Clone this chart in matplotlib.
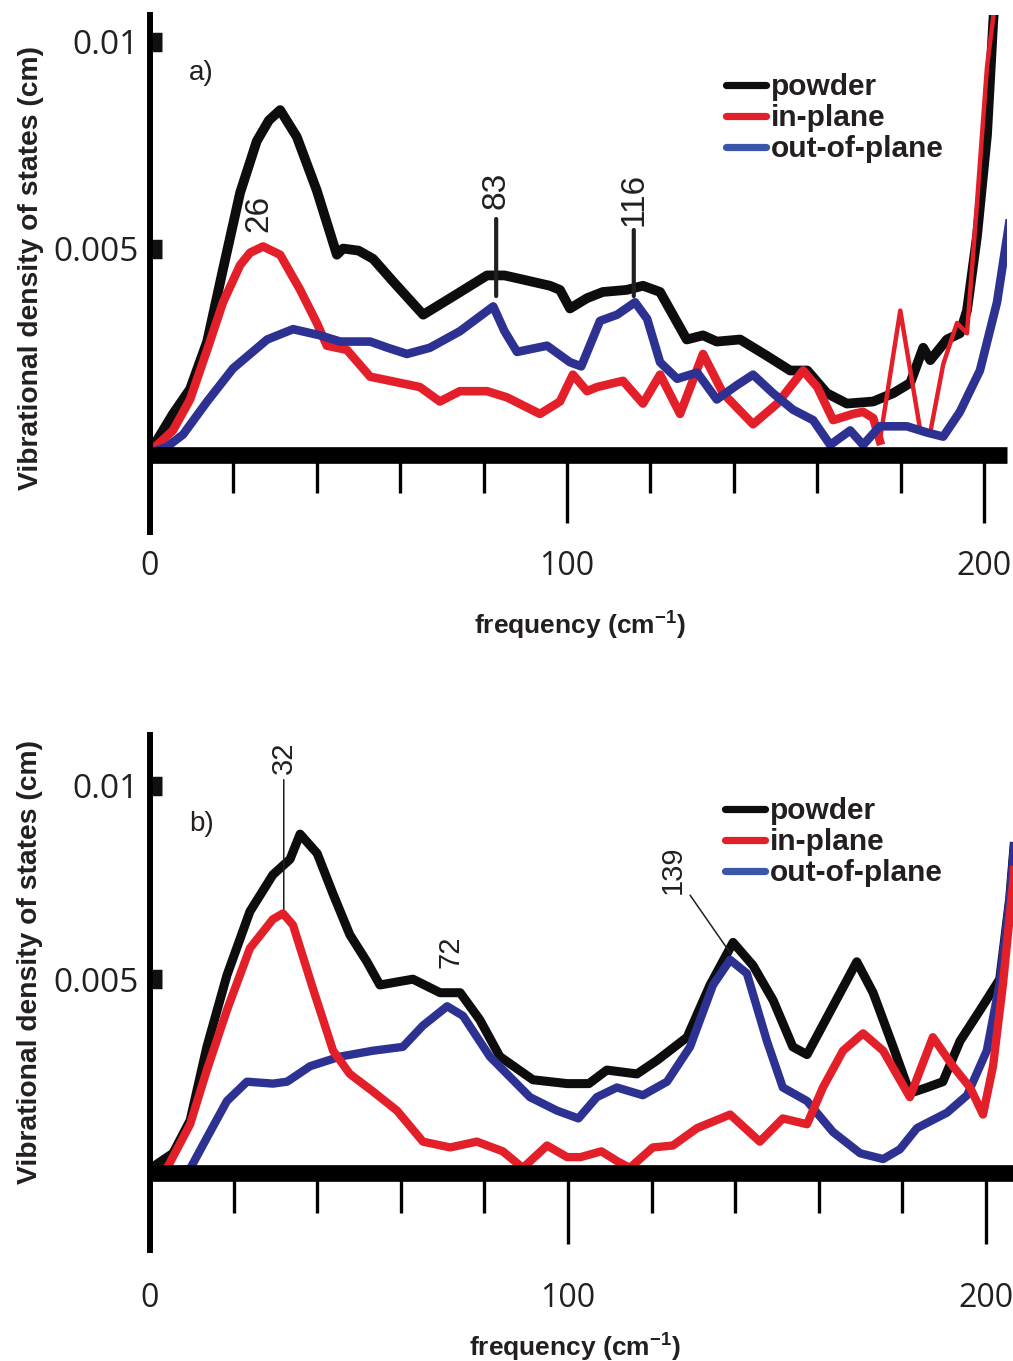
import matplotlib
matplotlib.use("Agg")
import matplotlib.pyplot as plt
from matplotlib.lines import Line2D
from matplotlib.ticker import FixedLocator, MultipleLocator, NullFormatter
import numpy as np

plt.rcParams["mathtext.fontset"] = "custom"
plt.rcParams["mathtext.rm"] = "Liberation Sans"
plt.rcParams["mathtext.bf"] = "Liberation Sans:bold"

# ---------------- data (density of states in units of 1e-3 cm) ----------------
# panel a
freq_a_powder = [0, 0.7, 5.5, 9.6, 13.7, 17.5, 21.6, 25.6, 28.5, 31.2, 35.2, 40, 44.8, 46.3, 50,
                 53.5, 58.3, 65.5, 73.6, 80.8, 85, 89.4, 95.9, 98.3, 100.7, 104.8, 108.6, 114.3,
                 118.2, 122.3, 128.7, 132.6, 135.9, 141.5, 148, 153.5, 157.6, 162.3, 167.1, 173.4,
                 178.2, 182.3, 185.4, 187.1, 191.1, 194.2, 195.9, 198.3, 200.7, 202.2, 204]
dos_a_powder = [0.15, 0.2, 1.0, 1.6, 2.75, 4.5, 6.35, 7.6, 8.1, 8.35, 7.7, 6.4, 4.85, 5.0, 4.95,
                4.75, 4.2, 3.4, 3.9, 4.35, 4.35, 4.25, 4.1, 4.0, 3.55, 3.8, 3.95, 4.0,
                4.1, 3.95, 2.8, 2.9, 2.75, 2.8, 2.4, 2.05, 2.05, 1.5, 1.25, 1.3,
                1.5, 1.75, 2.6, 2.3, 2.8, 2.95, 3.5, 5.3, 7.75, 10.5, 13]

freq_a_inplane = [0, 0.7, 5.5, 9.6, 13.7, 17.5, 21.6, 24, 27.1, 31.2, 36, 40, 42.4, 47.2, 52.8,
                  57.6, 64.7, 69.5, 74.3, 80.8, 85.6, 93.5, 98.3, 101.4, 104.8, 107.2, 113.4,
                  118.2, 122.3, 127.1, 132.6, 137.4, 144.6, 150.4, 156.6, 160, 163.8, 168.6, 171,
                  173.4, 175, 179.9, 184.7, 187, 190.2, 193.5, 195.9, 198.3, 200.7, 202.2, 203.5]
dos_a_inplane = [0.1, 0.15, 0.6, 1.35, 2.55, 3.7, 4.6, 4.9, 5.05, 4.85, 4.0, 3.2, 2.65, 2.55, 1.9,
                 1.8, 1.65, 1.3, 1.55, 1.55, 1.4, 1.0, 1.3, 1.95, 1.55, 1.65, 1.8,
                 1.25, 1.95, 1.0, 2.45, 1.5, 0.75, 1.25, 2.05, 1.65, 0.85, 1.0, 1.05,
                 0.9, 0.35, 3.5, 0.6, 0.5, 2.2, 3.2, 2.95, 6.1, 9.4, 10.6, 13]

freq_a_outplane = [0, 4, 7.9, 13.7, 19.9, 28.1, 34.3, 40.8, 45.6, 52.8, 57, 61.6, 67.1, 74.3, 82.3,
                   85, 88, 92.8, 95.2, 100.7, 103.4, 107.9, 112, 116.3, 119.2, 122.3, 126.4,
                   131.2, 135.9, 140.8, 144.6, 149.4, 154.2, 159, 163.1, 167.9, 171, 175, 181.5,
                   186.3, 190.2, 194.2, 199, 203.1, 206]
dos_a_outplane = [0.05, 0.2, 0.5, 1.3, 2.1, 2.8, 3.05, 2.9, 2.75, 2.75, 2.6, 2.45, 2.6, 3.0, 3.6,
                  3.0, 2.5, 2.6, 2.65, 2.25, 2.15, 3.25, 3.4, 3.7, 3.3, 2.25, 1.85,
                  2.0, 1.35, 1.7, 1.95, 1.5, 1.1, 0.85, 0.25, 0.6, 0.25, 0.7, 0.7,
                  0.55, 0.45, 1.05, 2.05, 3.7, 5.6]

# panel b
freq_b_powder = [0, 0.7, 5.5, 9.6, 13.6, 18.4, 23.9, 29.4, 33.5, 35.9, 40, 43.8, 47.8, 51.9, 55,
                 62.9, 69.4, 74.2, 78.9, 83.7, 91.6, 99.8, 105, 109.3, 116.5, 121.3, 128.5, 134,
                 139.5, 144.3, 149.1, 153.8, 157.2, 163.4, 169.1, 173, 177.8, 181.8, 185.9, 189.7,
                 193.8, 198.6, 203.3, 205.7, 207]
dos_b_powder = [0.1, 0.15, 0.5, 1.35, 3.25, 5.1, 6.75, 7.7, 8.1, 8.75, 8.25, 7.2, 6.15, 5.45, 4.85,
                5.0, 4.65, 4.65, 3.95, 3.0, 2.4, 2.3, 2.3, 2.65, 2.55, 2.9, 3.5, 4.85,
                5.95, 5.35, 4.45, 3.25, 3.05, 4.3, 5.45, 4.65, 3.25, 2.05, 2.2, 2.35,
                3.4, 4.2, 5.0, 7.1, 8.8]

freq_b_inplane = [0, 4, 9.6, 13.6, 18.4, 23.9, 29.4, 31.8, 34.2, 39, 43.8, 47.8, 53.3, 59.1, 65.3,
                  71.8, 78.2, 84.4, 89.2, 95, 99.8, 103, 108, 111.7, 114.8, 120.3, 125.1, 130.9,
                  138.8, 145.9, 151.4, 157.2, 161, 165.8, 170.6, 175.4, 181.8, 187.3, 192.1, 196.2,
                  199.3, 201.7, 204.1, 206.5, 207.5]
dos_b_inplane = [0.05, 0.1, 1.25, 2.65, 4.2, 5.8, 6.55, 6.7, 6.4, 4.75, 3.15, 2.55, 2.1, 1.6, 0.8,
                 0.65, 0.8, 0.55, 0.12, 0.7, 0.4, 0.4, 0.55, 0.3, 0.12, 0.65, 0.7, 1.15,
                 1.5, 0.8, 1.4, 1.25, 2.2, 3.15, 3.6, 3.15, 1.95, 3.5, 2.75, 2.2,
                 1.5, 2.75, 4.9, 7.5, 9.0]

freq_b_outplane = [0, 5, 9.6, 13.6, 18.4, 23.2, 29.4, 32.8, 38.3, 45.5, 53.3, 60.5, 65.3, 71.1,
                   74.9, 81.3, 90.9, 97.4, 102.5, 106.9, 111.7, 117.9, 123.7, 129.2, 134.7, 138.8,
                   142.8, 147.6, 151.4, 157.2, 163.4, 169.9, 175.4, 179.4, 183.5, 190.7, 195.5,
                   200.2, 203.3, 205.7, 207]
dos_b_outplane = [0.02, 0.05, 0.1, 0.9, 1.85, 2.35, 2.3, 2.35, 2.75, 3.0, 3.15, 3.25, 3.8, 4.3,
                  4.05, 3.0, 1.95, 1.6, 1.4, 1.95, 2.2, 2.0, 2.35, 3.25, 4.85, 5.5,
                  5.15, 3.4, 2.2, 1.85, 1.05, 0.5, 0.35, 0.6, 1.15, 1.55, 2.0,
                  3.15, 4.9, 7.1, 8.8]

series_labels = ["powder", "in-plane", "out-of-plane"]
x_tick_labels = ["0", "100", "200"]
y_tick_values = [0.005, 0.01]
y_tick_labels = ["0.005", "0.01"]

# labelled peak frequencies
peaks_a = [26, 83, 116]
peaks_b = [32, 72, 139]

SCALE = 1e-3
C_POWDER = "#0d0d0d"
C_IN = "#e3202a"
C_OUT = "#2d3192"
C_LEG_OUT = "#3a56a8"
LEAD = "#231f20"
TXT = "#231f20"

BOLD = dict(family="Liberation Sans", weight="bold")
NUM_FONT = "Liberation Sans"
TICK_FONT = "Open Sans"

fig = plt.figure(figsize=(10.13, 13.61), dpi=100)
ax_a = fig.add_axes([0.1481, 0.609, 0.846, 0.380])
ax_b = fig.add_axes([0.1481, 0.0816, 0.852, 0.378])


def style_axes(ax, xmax, ylo, yhi, major_len, minor_len, lab_pad):
    ax.set_xlim(0, xmax)
    ax.set_ylim(ylo * SCALE, yhi * SCALE)
    for side in ("top", "right"):
        ax.spines[side].set_visible(False)
    ax.spines["bottom"].set_position(("data", 0))
    ax.spines["bottom"].set_linewidth(12)
    ax.spines["bottom"].set_capstyle("butt")
    ax.spines["left"].set_linewidth(4.3)
    ax.spines["left"].set_position(("data", 0))
    ax.spines["bottom"].set_zorder(5)
    ax.spines["left"].set_zorder(5)

    ax.xaxis.set_major_locator(FixedLocator([0, 100, 200]))
    ax.set_xticklabels(x_tick_labels, fontsize=23, family=TICK_FONT, color=TXT)
    ax.xaxis.set_minor_locator(MultipleLocator(20))
    ax.xaxis.set_minor_formatter(NullFormatter())
    ax.tick_params(axis="x", which="major", direction="out", length=major_len, width=2.4,
                   pad=lab_pad, color="black")
    ax.tick_params(axis="x", which="minor", direction="out", length=minor_len, width=2.4,
                   color="black")

    ax.yaxis.set_major_locator(FixedLocator(y_tick_values))
    ax.set_yticklabels(y_tick_labels, fontsize=24, family=TICK_FONT, color=TXT)
    ax.yaxis.set_minor_locator(FixedLocator([]))
    ax.tick_params(axis="y", which="major", direction="in", length=8.6, width=14,
                   pad=8, color="#111111")

    ax.set_ylabel("Vibrational density of states (cm)", fontsize=20.3, **BOLD, color=TXT)
    ax.set_xlabel(r"frequency (cm$^{\mathbf{-1}}$)", fontsize=19, **BOLD, color=TXT)


def draw_legend(ax, anchor):
    handles = [Line2D([], [], color=c, lw=5.2, solid_capstyle="round")
               for c in (C_POWDER, C_IN, C_LEG_OUT)]
    leg = ax.legend(handles, series_labels, loc="upper left", bbox_to_anchor=anchor,
                    frameon=False, handlelength=1.35, handletextpad=0.15,
                    labelspacing=0.1, borderpad=0, borderaxespad=0,
                    prop=dict(family="Liberation Sans", weight="bold", size=21.5))
    for t in leg.get_texts():
        t.set_color(TXT)


# ---------------- panel a ----------------
fa_in = np.array(freq_a_inplane)
da_in = np.array(dos_a_inplane)
ax_a.plot(freq_a_powder, np.array(dos_a_powder) * SCALE, color=C_POWDER, lw=7, zorder=2,
          solid_joinstyle="round")
thick = fa_in <= 175
thin = fa_in >= 175
ax_a.plot(fa_in[thick], da_in[thick] * SCALE, color=C_IN, lw=6.2, zorder=3, solid_joinstyle="round")
ax_a.plot(fa_in[thin], da_in[thin] * SCALE, color=C_IN, lw=3.2, zorder=3, solid_joinstyle="round")
ax_a.plot(freq_a_outplane, np.array(dos_a_outplane) * SCALE, color=C_OUT, lw=6.2, zorder=4,
          solid_joinstyle="round")

style_axes(ax_a, 205.5, -1.86, 10.65, 49, 27, 19)
ax_a.yaxis.set_label_coords(-0.124, 0.51)
ax_a.xaxis.set_label_coords(0.502, -0.147)
ax_a.text(0.045, 0.875, "a)", transform=ax_a.transAxes, fontsize=20, family=NUM_FONT, color=TXT)
draw_legend(ax_a, (0.672, 0.887))

# peak labels, panel a
ax_a.text(peaks_a[0], 5.4 * SCALE, str(peaks_a[0]), rotation=90, ha="center", va="bottom",
          fontsize=24, family=NUM_FONT, color=TXT)
ax_a.annotate(str(peaks_a[1]), xy=(peaks_a[1], 3.85 * SCALE), xytext=(peaks_a[1], 5.95 * SCALE),
              rotation=90, ha="center", va="bottom", fontsize=24, family=NUM_FONT, color=TXT,
              arrowprops=dict(arrowstyle="-", lw=3, color=LEAD, shrinkA=5, shrinkB=0))
ax_a.annotate(str(peaks_a[2]), xy=(peaks_a[2], 3.85 * SCALE), xytext=(peaks_a[2], 5.55 * SCALE),
              rotation=90, ha="center", va="bottom", fontsize=24, family=NUM_FONT, color=TXT,
              arrowprops=dict(arrowstyle="-", lw=3, color=LEAD, shrinkA=1, shrinkB=0))

# ---------------- panel b ----------------
ax_b.plot(freq_b_powder, np.array(dos_b_powder) * SCALE, color=C_POWDER, lw=6.5, zorder=2,
          solid_joinstyle="round")
ax_b.plot(freq_b_outplane, np.array(dos_b_outplane) * SCALE, color=C_OUT, lw=6, zorder=3,
          solid_joinstyle="round")
ax_b.plot(freq_b_inplane, np.array(dos_b_inplane) * SCALE, color=C_IN, lw=6, zorder=4,
          solid_joinstyle="round")

style_axes(ax_b, 206.5, -2.0, 11.3, 51, 29, 28)
ax_b.yaxis.set_label_coords(-0.124, 0.56)
ax_b.xaxis.set_label_coords(0.492, -0.155)
ax_b.text(0.045, 0.815, "b)", transform=ax_b.transAxes, fontsize=20, family=NUM_FONT, color=TXT)
draw_legend(ax_b, (0.666, 0.88))

ax_b.annotate(str(peaks_b[0]), xy=(peaks_b[0], 6.75 * SCALE), xytext=(peaks_b[0], 10.3 * SCALE),
              rotation=90, ha="center", va="bottom", fontsize=21, family=NUM_FONT, color=TXT,
              arrowprops=dict(arrowstyle="-", lw=1.1, color=LEAD, shrinkA=2, shrinkB=0))
ax_b.text(peaks_b[1], 5.3 * SCALE, str(peaks_b[1]), rotation=90, ha="center", va="bottom",
          fontsize=21, family=NUM_FONT, color=TXT)
ax_b.annotate(str(peaks_b[2]), xy=(peaks_b[2], 5.65 * SCALE), xytext=(125, 7.2 * SCALE),
              rotation=90, ha="center", va="bottom", fontsize=21, family=NUM_FONT, color=TXT,
              arrowprops=dict(arrowstyle="-", lw=1.1, color=LEAD, shrinkA=1, shrinkB=0))

fig.savefig("out.png", dpi=100, facecolor="white")
